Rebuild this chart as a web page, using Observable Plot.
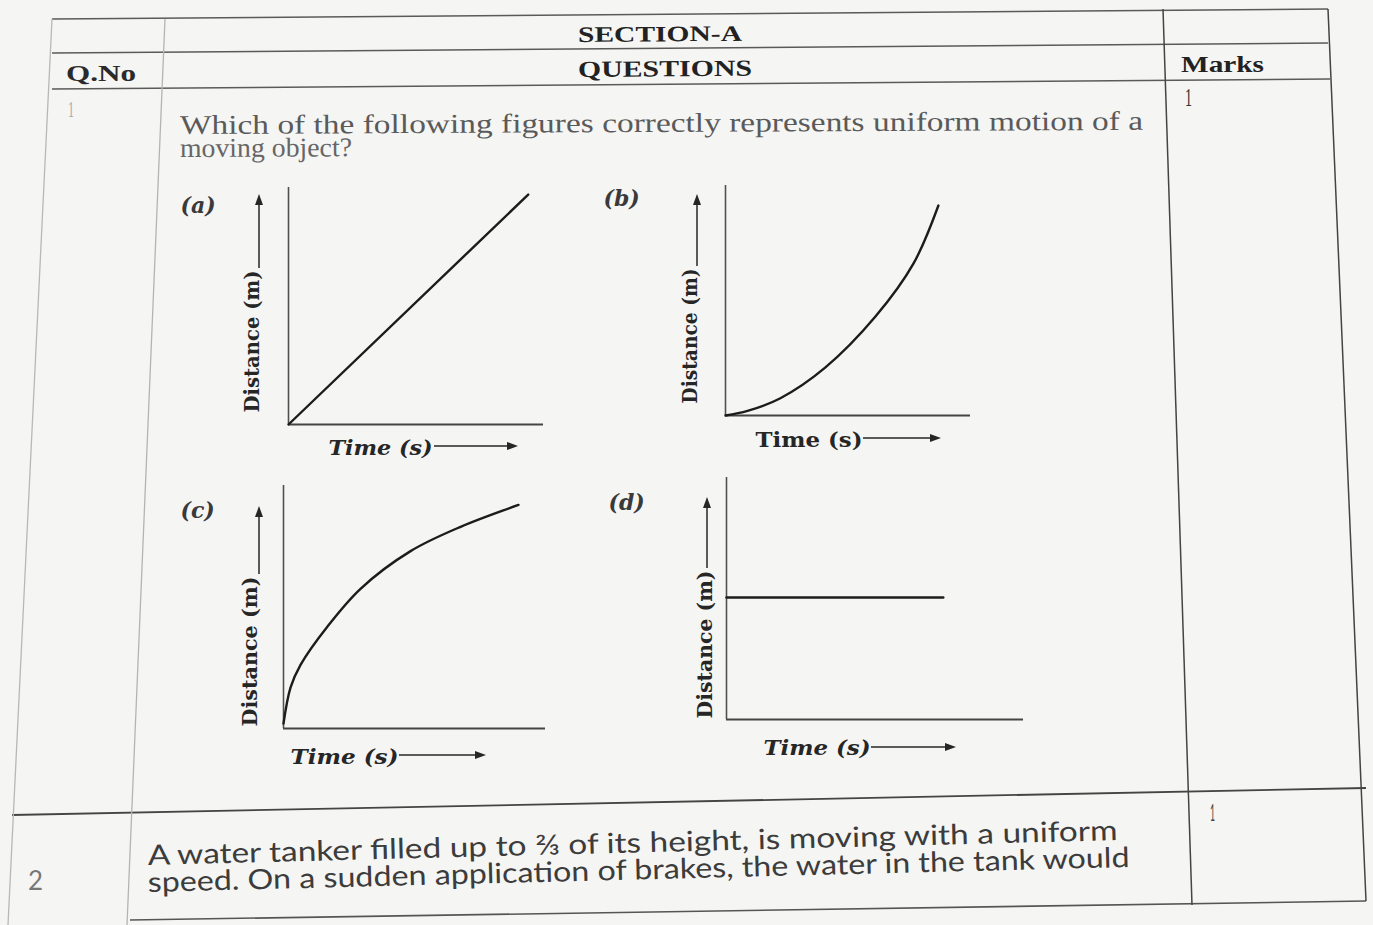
<!DOCTYPE html>
<html><head><meta charset="utf-8">
<script src="https://cdn.jsdelivr.net/npm/d3@7"></script>
<script src="https://cdn.jsdelivr.net/npm/@observablehq/plot@0.6"></script>
<style>
body{margin:0;background:#f5f5f3;}
#page{position:relative;width:1373px;height:925px;overflow:hidden;background:#f5f5f3;}
#table{position:absolute;left:0;top:0;}
</style></head><body><div id="page"><svg id="table" width="1373" height="925"></svg></div>
<script>
// ---------- data ----------
const panelTags = ["(a)", "(b)", "(c)", "(d)"];
const yAxisLabel = "Distance (m)";
const xAxisLabel = "Time (s)";
const timeA = [0, 9.4];
const distA = [0, 9.7];
const timeB = [0, 0.9, 2.24, 4.08, 6.12, 7.67, 8.69];
const distB = [0, 0.2, 0.75, 2.09, 4.3, 6.6, 9.13];
const timeC = [0, 0.27, 0.65, 1.68, 2.94, 4.85, 6.76, 8.97];
const distC = [0.2, 1.69, 2.62, 4.2, 5.75, 7.3, 8.3, 9.2];
const timeD = [0, 7.3];
const distD = [5.04, 5.04];

const headerTitle = "SECTION-A";
const headerCols = ["Q.No", "QUESTIONS", "Marks"];
const question1 = ["Which of the following figures correctly represents uniform motion of a", "moving object?"];
const question2 = ["A water tanker filled up to \u2154 of its height, is moving with a uniform", "speed. On a sudden application of brakes, the water in the tank would"];
const qNumbers = ["1", "2"];
const qMarks = ["1", "1"];

// ---------- layout (page pixels) ----------
const layout = [
  {L:288,T:187,R:543,B:424, yLabX:252, yLabB:412, yLabLen:142, yArrX:259, yArrTail:268, yArrTip:194, xLabL:328, xLabY:448, xLabLen:104, xArrL:434, xArrR:518, xArrY:446, tagX:180, tagY:205, italic:true},
  {L:725,T:185,R:970,B:415, yLabX:690, yLabB:403, yLabLen:135, yArrX:697, yArrTail:266, yArrTip:194, xLabL:755, xLabY:440, xLabLen:107, xArrL:863, xArrR:941, xArrY:438, tagX:603, tagY:198, italic:false},
  {L:283,T:485,R:545,B:728, yLabX:250, yLabB:726, yLabLen:150, yArrX:259, yArrTail:574, yArrTip:506, xLabL:290, xLabY:757, xLabLen:108, xArrL:399, xArrR:486, xArrY:755, tagX:180, tagY:510, italic:true},
  {L:726,T:477,R:1023,B:719, yLabX:705, yLabB:718, yLabLen:148, yArrX:707, yArrTail:568, yArrTip:497, xLabL:763, xLabY:748, xLabLen:107, xArrL:871, xArrR:956, xArrY:747, tagX:608, tagY:502, italic:true}
];
const series = [[timeA, distA], [timeB, distB], [timeC, distC], [timeD, distD]];

const page = document.getElementById("page");

function arrowG(g, x1, y1, x2, y2, color) {
  const ang = Math.atan2(y2 - y1, x2 - x1);
  const hl = 11, hw = 4;
  const bx = x2 - hl * Math.cos(ang), by = y2 - hl * Math.sin(ang);
  g.append("line").attr("x1", x1).attr("y1", y1).attr("x2", bx + 2*Math.cos(ang)).attr("y2", by + 2*Math.sin(ang))
    .attr("stroke", color).attr("stroke-width", 1.5);
  const px = -Math.sin(ang) * hw, py = Math.cos(ang) * hw;
  g.append("path").attr("d", `M${x2},${y2}L${bx + px},${by + py}L${bx - px},${by - py}Z`).attr("fill", color);
}

const ML = 120, MT = 25, MR = 10, MB = 50;
series.forEach(([t, d], i) => {
  const lay = layout[i];
  const rows = t.map((tt, k) => ({t: tt, d: d[k]}));
  const ox = lay.L - ML, oy = lay.T - MT;
  const fw = lay.R - lay.L, fh = lay.B - lay.T;
  const font = {fontFamily: "DejaVu Serif", fontWeight: "bold", fill: "#262626"};
  const chart = Plot.plot({
    width: fw + ML + MR, height: fh + MT + MB,
    marginLeft: ML, marginTop: MT, marginRight: MR, marginBottom: MB,
    x: {domain: [0, 10], axis: null},
    y: {domain: [0, 10], axis: null},
    style: {background: "transparent", overflow: "visible"},
    marks: [
      Plot.ruleX([0], {stroke: "#505050", strokeWidth: 1.6}),
      Plot.ruleY([0], {stroke: "#454545", strokeWidth: 1.9}),
      Plot.line(rows, {x: "t", y: "d", curve: (i === 1 || i === 2) ? "catmull-rom" : "linear", stroke: "#1c1c1c", strokeWidth: 2.4}),
      Plot.text([yAxisLabel], {text: v => v, frameAnchor: "bottom-left", rotate: -90, textAnchor: "start", lineAnchor: "middle",
        dx: lay.yLabX - lay.L, dy: lay.yLabB - lay.B, fontSize: 20, ...font}),
      Plot.text([xAxisLabel], {text: v => v, frameAnchor: "bottom-left", textAnchor: "start", lineAnchor: "middle",
        dx: lay.xLabL - lay.L, dy: lay.xLabY - lay.B, fontSize: 21, fontStyle: lay.italic ? "italic" : "normal", ...font}),
      Plot.text([panelTags[i]], {text: v => v, frameAnchor: "top-left", textAnchor: "start", lineAnchor: "middle",
        dx: lay.tagX - lay.L, dy: lay.tagY - lay.T, fontSize: 22, fontStyle: "italic", ...font, fill: "#3a3a3a"}),
      () => {
        const g = d3.create("svg:g");
        arrowG(g, lay.yArrX - ox, lay.yArrTail - oy, lay.yArrX - ox, lay.yArrTip - oy, "#262626");
        arrowG(g, lay.xArrL - ox, lay.xArrY - oy, lay.xArrR - ox, lay.xArrY - oy, "#262626");
        return g.node();
      }
    ]
  });
  chart.style.position = "absolute";
  chart.style.left = ox + "px";
  chart.style.top = oy + "px";
  page.append(chart);
  chart.querySelectorAll("text").forEach(el => {
    if (el.textContent === yAxisLabel) { el.setAttribute("textLength", lay.yLabLen); el.setAttribute("lengthAdjust", "spacingAndGlyphs"); }
    if (el.textContent === xAxisLabel) { el.setAttribute("textLength", lay.xLabLen); el.setAttribute("lengthAdjust", "spacingAndGlyphs"); }
  });
});

// ---------- table (decoration) ----------
const tbl = d3.select("#table");
const tableLines = [
  {x1:52, y1:19, x2:1328, y2:9, c:"#5a5a5a", w:1.5},
  {x1:52, y1:53, x2:1328, y2:43, c:"#5a5a5a", w:1.5},
  {x1:52, y1:89, x2:1330, y2:79, c:"#5a5a5a", w:1.5},
  {x1:12, y1:815, x2:1366, y2:788, c:"#444", w:1.8},
  {x1:130, y1:920, x2:1366, y2:901, c:"#555", w:1.6},
  {x1:52, y1:19, x2:8, y2:925, c:"#b8b8b8", w:1.3},
  {x1:165, y1:19, x2:127, y2:925, c:"#b4b4b4", w:1.3},
  {x1:1163, y1:9, x2:1192, y2:905, c:"#444", w:1.5},
  {x1:1328, y1:9, x2:1366, y2:901, c:"#444", w:1.5}
];
tableLines.forEach(l => tbl.append("line").attr("x1", l.x1).attr("y1", l.y1).attr("x2", l.x2).attr("y2", l.y2)
  .attr("stroke", l.c).attr("stroke-width", l.w));

const texts = [
  {s: headerTitle, x:578, y:42, len:164, size:22, fam:"Liberation Serif", wt:"bold", fill:"#222", rot:-0.45},
  {s: headerCols[0], x:66, y:81, len:70, size:23, fam:"Liberation Serif", wt:"bold", fill:"#2a2a2a", rot:0},
  {s: headerCols[1], x:578, y:77, len:174, size:23, fam:"Liberation Serif", wt:"bold", fill:"#222", rot:-0.45},
  {s: headerCols[2], x:1181, y:72, len:83, size:24, fam:"Liberation Serif", wt:"bold", fill:"#222", rot:0},
  {s: qMarks[0], x:1185, y:106, len:7, size:25, fam:"Liberation Serif", wt:"normal", fill:"#333", rot:0},
  {s: qNumbers[0], x:68, y:117, len:6, size:24, fam:"Liberation Serif", wt:"normal", fill:"#aaa", rot:0},
  {s: question1[0], x:180, y:134, len:963, size:27, fam:"Liberation Serif", wt:"normal", fill:"#5a5a5a", rot:-0.25},
  {s: question1[1], x:180, y:157, len:172, size:27, fam:"Liberation Serif", wt:"normal", fill:"#666", rot:-0.25},
  {s: question2[0], x:148, y:865, len:970, size:28, fam:"Lato", wt:"normal", fill:"#3c3c3c", rot:-1.47},
  {s: question2[1], x:148, y:892, len:982, size:28, fam:"Lato", wt:"normal", fill:"#3c3c3c", rot:-1.46},
  {s: qNumbers[1], x:28, y:890, len:15, size:26, fam:"Lato", wt:"normal", fill:"#777", rot:0},
  {s: qMarks[1], x:1210, y:821, len:5, size:24, fam:"Lato", wt:"normal", fill:"#444", rot:0}
];
texts.forEach(t => tbl.append("text").text(t.s).attr("x", t.x).attr("y", t.y)
  .attr("textLength", t.len).attr("lengthAdjust", "spacingAndGlyphs")
  .attr("font-family", t.fam).attr("font-size", t.size).attr("font-weight", t.wt).attr("fill", t.fill)
  .attr("transform", `rotate(${t.rot},${t.x},${t.y})`));
</script></body></html>
